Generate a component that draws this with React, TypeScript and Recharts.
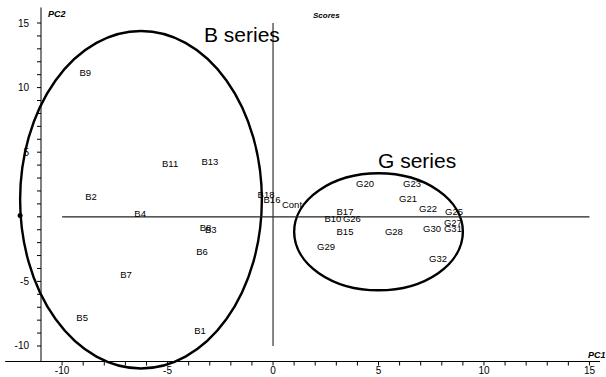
import React from 'react';
import { ScatterChart, Scatter, XAxis, YAxis, ReferenceLine, ReferenceArea, ReferenceDot } from 'recharts';

// score labels (PC1, PC2)
const leftNames = ['B9', 'B11', 'B13', 'B2', 'B4', 'B8', 'B3', 'B6', 'B7', 'B5', 'B1', 'B18', 'B16', 'Cont'];
const leftPc1 = [-8.9, -4.88, -2.99, -8.63, -6.3, -3.2, -2.95, -3.37, -6.97, -9.05, -3.46, -0.33, -0.05, 0.9];
const leftPc2 = [11.2, 4.15, 4.3, 1.59, 0.27, -0.85, -0.95, -2.67, -4.5, -7.8, -8.8, 1.74, 1.36, 0.97];

const rightNames = ['G20', 'G23', 'G21', 'G22', 'G25', 'G27', 'G30', 'G31', 'B17', 'B10', 'G26', 'B15', 'G28', 'G29', 'G32'];
const rightPc1 = [4.36, 6.59, 6.4, 7.35, 8.58, 8.53, 7.54, 8.53, 3.41, 2.84, 3.74, 3.41, 5.73, 2.51, 7.82];
const rightPc2 = [2.6, 2.6, 1.43, 0.66, 0.43, -0.43, -0.89, -0.89, 0.43, -0.12, -0.12, -1.12, -1.12, -2.29, -3.2];

// group ellipses as bounding boxes [pc1 min, pc1 max, pc2 min, pc2 max]
const bEllipse = [-11.99, -0.53, -11.74, 14.38];
const gEllipse = [1.0, 9.0, -5.69, 3.37];

const xTicks = [-10, -9, -8, -7, -6, -5, -4, -3, -2, -1, 0, 1, 2, 3, 4, 5, 6, 7, 8, 9, 10, 11, 12, 13, 14, 15];
const yTicks = [-10, -9, -8, -7, -6, -5, -4, -3, -2, -1, 0, 1, 2, 3, 4, 5, 6, 7, 8, 9, 10, 11, 12, 13, 14, 15];

const FONT = '"Liberation Sans", Arial, sans-serif';

const points = [
  ...leftNames.map((name, i) => ({ name, pc1: leftPc1[i], pc2: leftPc2[i] })),
  ...rightNames.map((name, i) => ({ name, pc1: rightPc1[i], pc2: rightPc2[i] })),
];

const PointLabel = (props: any) => (
  <text x={props.cx} y={props.cy} textAnchor="middle" dominantBaseline="central"
    fontSize={9.5} fontFamily={FONT} fill="#000">
    {props.payload.name}
  </text>
);

const EllipseShape = (props: any) => (
  <ellipse cx={props.x + props.width / 2} cy={props.y + props.height / 2}
    rx={Math.abs(props.width) / 2} ry={Math.abs(props.height) / 2}
    fill="none" stroke="#000" strokeWidth={2.4} />
);

const XTick = ({ x, y, payload }: any) =>
  payload.value % 5 === 0 ? (
    <text x={x} y={y} dy="0.71em" textAnchor="middle" fontSize={10} fontFamily={FONT} fill="#000">
      {payload.value}
    </text>
  ) : <g />;

const YTick = ({ x, y, payload }: any) =>
  payload.value % 5 === 0 && payload.value !== 0 ? (
    <text x={x} y={y} textAnchor="end" dominantBaseline="central" fontSize={10} fontFamily={FONT} fill="#000">
      {payload.value}
    </text>
  ) : <g />;

const small: React.CSSProperties = {
  position: 'absolute', fontFamily: FONT, fontStyle: 'italic', fontWeight: 700,
  fontSize: 9, lineHeight: '9px', color: '#000',
};
const big: React.CSSProperties = {
  position: 'absolute', fontFamily: FONT, fontSize: 21, lineHeight: '21px', color: '#000',
};

export default function App() {
  return (
    <div style={{ position: 'absolute', left: 0, top: 0, width: 606, height: 377, background: '#fff' }}>
      <ScatterChart width={606} height={377} margin={{ top: 7.5, right: 6, bottom: 0, left: 0 }}>
        <XAxis type="number" dataKey="pc1" domain={[-11, 15.5]} allowDataOverflow ticks={xTicks}
          interval={0} height={15.5} tickSize={4} tickMargin={1} tick={<XTick />}
          axisLine={{ stroke: '#000' }} tickLine={{ stroke: '#000' }} />
        <YAxis type="number" dataKey="pc2" domain={[-11.2, 16.2]} allowDataOverflow ticks={yTicks}
          interval={0} width={41} tickSize={4} tickMargin={8} tick={<YTick />}
          axisLine={{ stroke: '#000' }} tickLine={{ stroke: '#000' }} />
        <ReferenceLine segment={[{ x: -12.7, y: -11.2 }, { x: -11, y: -11.2 }]} ifOverflow="visible" stroke="#000" />
        <ReferenceLine segment={[{ x: -10, y: 0 }, { x: 15, y: 0 }]} stroke="#222" strokeWidth={1.2} />
        <ReferenceLine segment={[{ x: 0, y: -10 }, { x: 0, y: 15 }]} stroke="#333" strokeWidth={1.2} />
        <ReferenceArea x1={bEllipse[0]} x2={bEllipse[1]} y1={bEllipse[2]} y2={bEllipse[3]}
          ifOverflow="visible" shape={<EllipseShape />} />
        <ReferenceArea x1={gEllipse[0]} x2={gEllipse[1]} y1={gEllipse[2]} y2={gEllipse[3]}
          ifOverflow="visible" shape={<EllipseShape />} />
        <ReferenceDot x={bEllipse[0]} y={0.1} r={2.5} fill="#000" stroke="none" ifOverflow="visible" />
        <Scatter data={points} shape={<PointLabel />} isAnimationActive={false} />
      </ScatterChart>
      <div style={{ ...small, left: 48, top: 10 }}>PC2</div>
      <div style={{ ...small, left: 313, top: 11, fontSize: 8 }}>Scores</div>
      <div style={{ ...small, left: 588, top: 351 }}>PC1</div>
      <div style={{ ...big, left: 204, top: 24 }}>B series</div>
      <div style={{ ...big, left: 378, top: 150 }}>G series</div>
    </div>
  );
}
